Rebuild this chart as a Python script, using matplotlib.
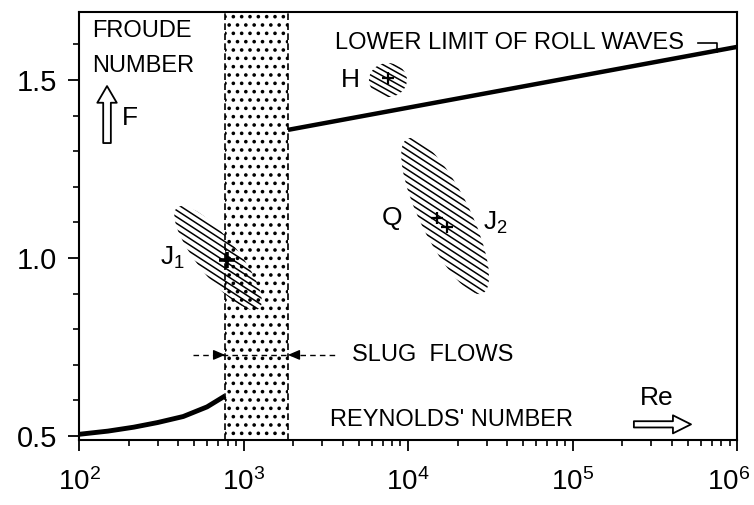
import numpy as np
import matplotlib
matplotlib.use("Agg")
import matplotlib.pyplot as plt
from matplotlib.patches import Ellipse
from matplotlib.collections import LineCollection
from matplotlib.transforms import ScaledTranslation
from matplotlib.ticker import MultipleLocator, LogLocator, NullFormatter

plt.rcParams['font.family'] = ['Liberation Sans', 'DejaVu Sans']
plt.rcParams['hatch.linewidth'] = 1.4

# lower branch (laminar) of the Froude number limit
re_low = [100, 150, 215, 300, 430, 600, 773]
f_low = [0.505, 0.514, 0.525, 0.538, 0.555, 0.582, 0.613]

# lower limit of roll waves (straight in log Re)
re_roll = [1862, 1e6]
f_roll = [1.36, 1.593]

# slug flow band
slug_band = [773, 1862]

# measured points
pt_names = ['J1', 'H', 'Q', 'J2']
pt_re = [794, 7550, 15000, 17260]
pt_f = [0.994, 1.506, 1.112, 1.087]

# scatter regions (centre Re, centre F)
blob_re = [700, 7550, 16800]
blob_f = [1.0, 1.5, 1.118]

x_ticks = [1e2, 1e3, 1e4, 1e5, 1e6]
x_labels = [r'$\mathregular{10^{2}}$', r'$\mathregular{10^{3}}$', r'$\mathregular{10^{4}}$',
            r'$\mathregular{10^{5}}$', r'$\mathregular{10^{6}}$']
y_ticks = [0.5, 1.0, 1.5]
y_labels = ['0.5', '1.0', '1.5']

fig = plt.figure(figsize=(7.54, 5.05), dpi=100)
ax = fig.add_axes([0.1048, 0.1287, 0.8727, 0.8475])
ax.set_xscale('log')


def hatched_blob(x, y, w, h, angle, slope=-33, spacing=5.5, lw=1.1):
    # w, h, spacing in pixels, blob centred on data point (x, y)
    trans = fig.dpi_scale_trans + ScaledTranslation(x, y, ax.transData)
    ell = Ellipse((0, 0), w / 100, h / 100, angle=angle, transform=trans,
                  fc='none', ec='none')
    ax.add_patch(ell)
    r = max(w, h) / 200
    a = np.deg2rad(slope)
    u = np.array([np.cos(a), np.sin(a)])
    nv = np.array([-np.sin(a), np.cos(a)])
    segs = []
    for d in np.arange(-r, r + 1e-9, spacing / 100):
        segs.append([nv * d - u * r, nv * d + u * r])
    lc = LineCollection(segs, colors='black', linewidths=lw, transform=trans)
    ax.add_collection(lc, autolim=False)
    lc.set_clip_path(ell)


# slug band
ax.axvspan(slug_band[0], slug_band[1], fc='white', ec='black', lw=0, hatch='..')
for xb in slug_band:
    ax.axvline(xb, color='black', lw=1.2, ls=(0, (4, 2)))

# curves
ax.plot(re_low, f_low, color='black', lw=3.5, solid_capstyle='butt')
ax.plot(re_roll, f_roll, color='black', lw=3.2, solid_capstyle='butt')

# hatched regions
hatched_blob(blob_re[0], blob_f[0], 130, 40, -51)
hatched_blob(blob_re[1], blob_f[1], 38, 34, 0, slope=-29, spacing=5)
hatched_blob(blob_re[2], blob_f[2], 172, 50, -64)

# points
ax.plot(pt_re[0], pt_f[0], marker='+', color='black', ms=11, mew=2.6, ls='none')
ax.plot(pt_re[1:], pt_f[1:], marker='+', color='black', ms=9, mew=1.6, ls='none')

# labels of points
ax.text(309, 1.0, r'$\mathregular{J_1}$', fontsize=19, ha='left', va='center')
ax.text(4440, 1.5, 'H', fontsize=19, ha='center', va='center')
ax.text(8000, 1.112, 'Q', fontsize=19, ha='center', va='center')
ax.text(28600, 1.098, r'$\mathregular{J_2}$', fontsize=19, ha='left', va='center')

# axis captions inside
ax.text(120, 1.668, 'FROUDE\nNUMBER', fontsize=17, ha='left', va='top', linespacing=1.75)
ax.annotate('', xy=(148, 1.483), xytext=(148, 1.323),
            arrowprops=dict(arrowstyle='simple,head_length=1.2,head_width=1.4,tail_width=0.55',
                            fc='white', ec='black', lw=1.3, shrinkA=0, shrinkB=0))
ax.text(183, 1.393, 'F', fontsize=19, ha='left', va='center')

ax.text(3360, 0.545, "REYNOLDS' NUMBER", fontsize=17, ha='left', va='center')
ax.annotate('', xy=(525000, 0.533), xytext=(236000, 0.533),
            arrowprops=dict(arrowstyle='simple,head_length=1.3,head_width=1.3,tail_width=0.45',
                            fc='white', ec='black', lw=1.3, shrinkA=0, shrinkB=0))
ax.text(327000, 0.607, 'Re', fontsize=19, ha='center', va='center')

ax.text(3600, 1.604, 'LOWER LIMIT OF ROLL WAVES', fontsize=17, ha='left', va='center')
ax.plot([580000, 755000, 755000], [1.604, 1.604, 1.579], color='black', lw=1.2)

# slug flows marker
y_slug = 0.728
ax.plot([493, 3720], [y_slug, y_slug], color='black', lw=1.0, ls=(0, (4, 3)))
ax.annotate('', xy=(slug_band[0], y_slug), xytext=(690, y_slug),
            arrowprops=dict(arrowstyle='-|>,head_length=0.7,head_width=0.3',
                            color='black', lw=1.0, shrinkA=0, shrinkB=0))
ax.annotate('', xy=(slug_band[1], y_slug), xytext=(2080, y_slug),
            arrowprops=dict(arrowstyle='-|>,head_length=0.7,head_width=0.3',
                            color='black', lw=1.0, shrinkA=0, shrinkB=0))
ax.text(4570, y_slug, 'SLUG  FLOWS', fontsize=17, ha='left', va='center')

# axes
ax.set_xlim(1e2, 1e6)
ax.set_ylim(0.489, 1.691)
ax.set_xticks(x_ticks)
ax.set_xticklabels(x_labels)
ax.xaxis.set_minor_locator(LogLocator(base=10, subs=np.arange(2, 10)))
ax.xaxis.set_minor_formatter(NullFormatter())
ax.set_yticks(y_ticks)
ax.set_yticklabels(y_labels)
ax.yaxis.set_minor_locator(MultipleLocator(0.1))
ax.tick_params(which='major', direction='out', length=8, width=1.3, labelsize=21, pad=8)
ax.tick_params(which='minor', direction='out', length=4, width=1.2)
ax.tick_params(axis='x', which='major', labelsize=20, pad=12)
for sp in ax.spines.values():
    sp.set_linewidth(1.5)

# keep the last x label inside the figure
last = ax.get_xticklabels()[-1]
last.set_transform(last.get_transform() + ScaledTranslation(-8 / 100, 0, fig.dpi_scale_trans))

fig.savefig('out.png', dpi=100)
